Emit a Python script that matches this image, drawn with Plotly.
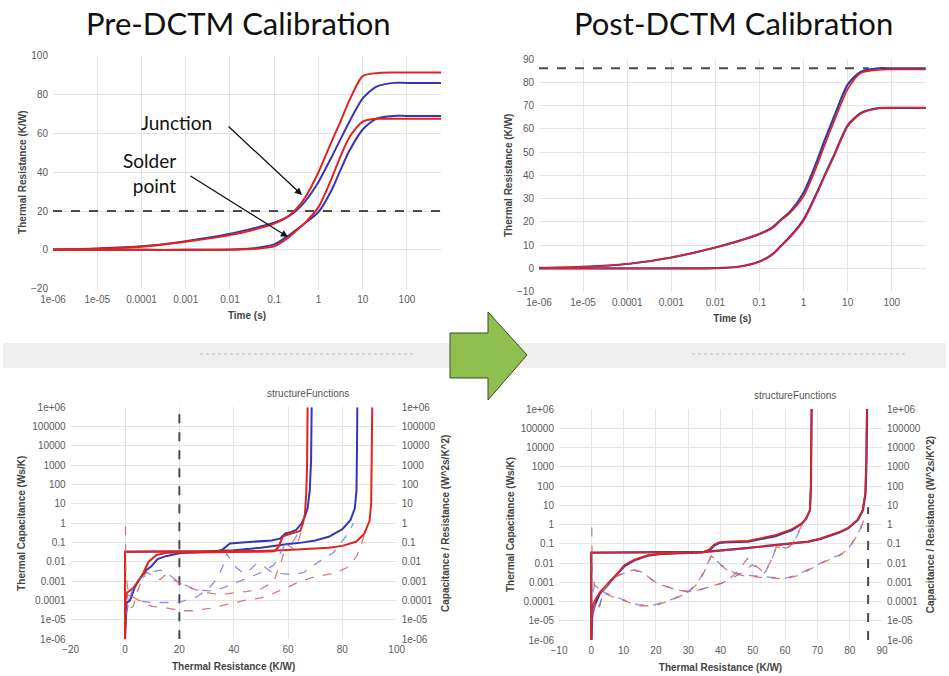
import plotly.graph_objects as go

W, H = 949, 676


def px(x):
    return x / W


def py(y):
    return 1 - y / H


# ---------------- DATA ----------------
# Top charts: thermal impedance vs time
time_s = [1e-6, 1e-5, 1e-4, 1e-3, 1e-2, 0.03, 0.1, 0.2, 0.3, 0.5, 1, 2, 3, 5, 10, 20, 50, 100, 600]

pre_junction_red = [0.2, 0.6, 1.6, 4.2, 7.6, 10, 13.5, 17, 20.5, 27, 40, 56, 65, 77, 89.5, 91, 91.3, 91.3, 91.3]
pre_junction_blue = [0.2, 0.7, 1.8, 4.5, 8.3, 10.8, 14, 17, 19.8, 25, 35, 48, 56, 66, 78, 84, 86, 86, 86]
pre_solder_red = [0, 0, 0, 0, 0.1, 0.4, 1.8, 6, 9.5, 14, 22, 37, 47, 58, 66, 67.5, 67.5, 67.5, 67.5]
pre_solder_blue = [0, 0, 0, 0, 0.2, 0.7, 2.8, 7, 10, 13.8, 19.5, 31, 40, 51, 62, 67.5, 69, 69, 69]

post_junction_red = [0.2, 0.7, 1.9, 4.7, 9, 11.5, 14.8, 17.5, 20.5, 24, 31, 44, 53, 63.5, 77, 84, 85.3, 85.5, 85.5]
post_junction_blue = [0.2, 0.7, 1.9, 4.7, 9, 11.5, 14.8, 17.7, 20.8, 24.5, 32.5, 46, 55, 65.5, 79, 84.5, 86, 86, 86]
post_solder_red = [0, 0, 0, 0, 0.1, 0.6, 2.9, 6, 9.3, 13.5, 20.5, 32, 39.5, 48.5, 61, 66.5, 68.8, 69, 69]
post_solder_blue = [0, 0, 0, 0, 0.1, 0.6, 3, 6.2, 9.5, 13.8, 21, 32.5, 40, 49, 61.5, 66.8, 68.9, 69, 69]

pre_ref_level = 20      # dashed horizontal, pre
post_ref_level = 86     # dashed horizontal, post
post_ref_tmax = 30

time_ticks = [1e-6, 1e-5, 1e-4, 1e-3, 1e-2, 0.1, 1, 10, 100]
time_ticktext = ["1e-06", "1e-05", "0.0001", "0.001", "0.01", "0.1", "1", "10", "100"]

# Bottom charts: cumulative (solid) and differential (dashed) structure functions
pre_cum_junction_red_x = [0, 0, 0.5, 10, 20, 30, 40, 50, 60, 70, 75, 80, 85, 88, 90, 90.6, 90.8, 91.0]
pre_cum_junction_red_y = [1e-6, 0.034, 0.034, 0.034, 0.034, 0.034, 0.035, 0.037, 0.042, 0.048, 0.055, 0.068, 0.11, 0.28, 1.3, 10, 1000, 1e6]
pre_cum_junction_blue_x = [0, 0, 0.5, 10, 20, 30, 40, 50, 60, 65, 70, 75, 80, 83, 84.6, 85.2, 85.4, 85.5]
pre_cum_junction_blue_y = [1e-6, 0.034, 0.034, 0.034, 0.035, 0.036, 0.04, 0.055, 0.085, 0.1, 0.13, 0.2, 0.5, 1.5, 6, 50, 1e4, 1e6]
pre_cum_solder_blue_x = [0, 0.3, 0.6, 1.8, 3.6, 5.5, 8, 9.7, 12, 15, 20, 25, 30, 34, 36, 37.5, 38.6, 42, 48, 54, 57, 59, 61, 63, 65, 66.2, 67.2, 68.0, 68.5, 68.7]
pre_cum_solder_blue_y = [1e-6, 3e-5, 8e-5, 1e-4, 5e-4, 0.0014, 0.004, 0.006, 0.014, 0.02, 0.028, 0.031, 0.033, 0.035, 0.045, 0.07, 0.09, 0.1, 0.11, 0.13, 0.16, 0.3, 0.35, 0.45, 1, 2.2, 6, 50, 2e3, 1e6]
pre_cum_solder_red_x = [0, 0.2, 0.6, 3, 4.3, 6.7, 8.6, 11.6, 15.3, 20, 30, 40, 50, 55, 56.5, 58, 59.5, 61, 63, 64.5, 65.5, 66.2, 66.7, 67.0, 67.2]
pre_cum_solder_red_y = [1e-6, 1e-4, 2.5e-4, 4.5e-4, 8e-4, 0.0026, 0.01, 0.023, 0.03, 0.031, 0.032, 0.033, 0.034, 0.036, 0.06, 0.2, 0.25, 0.3, 0.35, 0.4, 1, 3, 30, 1e3, 1e6]

pre_diff_junction_blue_x = [0.5, 1, 3, 6.7, 10, 14, 19.6, 24, 26.4, 29, 31.3, 34, 36, 37.4, 39, 41, 43.5, 46, 48.5, 51, 54, 58, 62, 66, 70, 73, 76.7, 80.4, 82.5, 84]
pre_diff_junction_blue_y = [1.5e-4, 2e-4, 1.5e-4, 9e-5, 8e-5, 8e-5, 8e-5, 1.2e-4, 1.6e-4, 2.8e-4, 5e-4, 0.0015, 0.006, 0.028, 0.012, 0.005, 0.0026, 0.004, 0.0085, 0.006, 0.003, 0.0025, 0.0022, 0.003, 0.008, 0.015, 0.03, 0.14, 0.35, 1.0]
pre_diff_solder_blue_x = [0.5, 1.5, 3, 5, 8, 11, 12.9, 15, 19, 22, 26.4, 31.3, 36, 40, 45, 50, 54.8, 56.5, 58.4, 60, 61.5, 63, 63.8]
pre_diff_solder_blue_y = [2e-5, 1e-4, 5e-4, 0.0013, 0.0021, 0.0033, 0.0038, 0.003, 0.0011, 6.5e-4, 3.5e-4, 3.2e-4, 4.5e-4, 7.5e-4, 0.0014, 0.0028, 0.007, 0.02, 0.06, 0.09, 0.1, 0.2, 0.5]
pre_diff_junction_red_x = [0.15, 0.3, 1, 3, 6.7, 10, 14, 20.3, 25, 31.3, 37, 43.5, 50, 55, 60, 64.4, 70.5, 76.7, 81.6, 85.3, 87, 87.8, 88.5]
pre_diff_junction_red_y = [0.7, 0.003, 4e-4, 1.5e-4, 8e-5, 5e-5, 4.5e-5, 3e-5, 3e-5, 4e-5, 6e-5, 1e-4, 1.4e-4, 2.5e-4, 5e-4, 0.001, 0.0018, 0.0025, 0.005, 0.02, 0.08, 0.2, 0.3]
pre_diff_solder_red_x = [0.5, 1.8, 3, 4.5, 6.5, 8, 10, 12.9, 14.5, 17, 20, 25, 30, 35, 40, 45, 50, 54.8, 56, 57.2, 58.4, 59.6, 61, 62.3, 64, 65.5]
pre_diff_solder_red_y = [3e-4, 4e-5, 5e-5, 3e-4, 0.0015, 0.003, 0.002, 0.0012, 0.002, 0.0014, 8e-4, 4e-4, 2.6e-4, 2e-4, 2.5e-4, 3e-4, 4e-4, 0.001, 0.003, 0.007, 0.03, 0.08, 0.06, 0.045, 0.15, 0.6]

post_cum_junction_blue_x = [0, 0, 0.5, 10, 20, 30, 35, 47, 57, 62, 67.2, 71, 74.5, 77, 79.5, 82.5, 84.1, 84.9, 85.2, 85.4]
post_cum_junction_blue_y = [1e-6, 0.035, 0.035, 0.035, 0.036, 0.037, 0.038, 0.057, 0.087, 0.1, 0.13, 0.18, 0.28, 0.4, 0.63, 1.7, 5.6, 40, 2e3, 1e6]
post_cum_junction_red_x = [0, 0, 0.5, 10, 20, 30, 35, 47, 57, 62, 67.2, 71, 74.5, 77, 79.5, 82.5, 84.0, 84.8, 85.1, 85.3]
post_cum_junction_red_y = [1e-6, 0.034, 0.034, 0.034, 0.035, 0.036, 0.037, 0.055, 0.085, 0.1, 0.13, 0.19, 0.3, 0.42, 0.66, 1.8, 5.6, 40, 2e3, 1e6]
post_cum_solder_blue_x = [0, 0.3, 0.8, 1.5, 2.6, 5.2, 8.2, 10.3, 13.4, 17.5, 21.6, 30, 34.5, 36.5, 38, 39.6, 42, 48.5, 52, 57, 62, 65.2, 66.5, 67.7, 68.0, 68.2]
post_cum_solder_blue_y = [1e-6, 2e-5, 5e-5, 1e-4, 2.5e-4, 8e-4, 0.0028, 0.007, 0.014, 0.024, 0.03, 0.034, 0.036, 0.045, 0.08, 0.11, 0.12, 0.13, 0.17, 0.25, 0.5, 1.1, 2, 5.6, 100, 1e6]
post_cum_solder_red_x = [0, 0.2, 0.6, 1.5, 2.6, 5.2, 8.2, 10.3, 13.4, 17.5, 21.6, 30, 34.5, 36.5, 38, 39.6, 42, 48.5, 52, 57, 62, 65.2, 66.5, 67.7, 68.0, 68.2]
post_cum_solder_red_y = [1e-6, 4e-5, 8e-5, 1.5e-4, 3e-4, 9e-4, 0.003, 0.008, 0.015, 0.025, 0.03, 0.034, 0.036, 0.05, 0.09, 0.12, 0.13, 0.14, 0.19, 0.28, 0.56, 1.15, 2, 5.6, 100, 1e6]

post_diff_junction_blue_x = [0.5, 1, 2, 4, 7.3, 10, 14.5, 19.6, 25, 30, 33, 35, 37.2, 39.5, 41.9, 44.5, 47.1, 52.2, 56, 60, 64, 67.6, 72.8, 76.9, 80, 83.1, 84.6]
post_diff_junction_blue_y = [3e-4, 8e-4, 6e-4, 3e-4, 1.8e-4, 1.2e-4, 6.6e-5, 6.6e-5, 1.3e-4, 3.2e-4, 0.001, 0.004, 0.026, 0.01, 0.005, 0.003, 0.0024, 0.002, 0.0018, 0.0016, 0.0025, 0.005, 0.014, 0.026, 0.07, 0.5, 2.5]
post_diff_junction_red_x = [0.15, 0.3, 1, 2, 4, 7.3, 10, 14.5, 19.6, 25, 30, 33, 35, 37.2, 39.5, 41.9, 44.5, 47.1, 52.2, 56, 60, 64, 67.6, 72.8, 76.9, 80, 83.1, 84.6]
post_diff_junction_red_y = [0.7, 0.003, 7e-4, 5e-4, 2.6e-4, 1.6e-4, 1.1e-4, 6e-5, 6e-5, 1.2e-4, 3e-4, 9e-4, 0.0035, 0.024, 0.009, 0.0045, 0.0028, 0.0022, 0.0018, 0.0016, 0.0015, 0.0022, 0.0045, 0.013, 0.024, 0.065, 0.45, 2.2]
post_diff_solder_blue_x = [0.5, 1.5, 2.5, 4, 7.9, 11, 13.4, 15.5, 20.2, 26.3, 30, 33.4, 37, 40.4, 43, 46.6, 49.8, 52, 53.6, 55.5, 57.3, 60.4, 62.4, 64.5, 65.6]
post_diff_solder_blue_y = [2e-5, 1e-4, 6e-5, 4e-4, 0.002, 0.0035, 0.0042, 0.0035, 0.0009, 4e-4, 3.3e-4, 4e-4, 6e-4, 0.0009, 0.0015, 0.003, 0.008, 0.005, 0.003, 0.01, 0.07, 0.06, 0.09, 0.5, 1.2]
post_diff_solder_red_x = [0.5, 1.5, 2.5, 4, 7.9, 11, 13.4, 15.5, 20.2, 26.3, 30, 33.4, 37, 40.4, 43, 46, 48.3, 50.5, 53.6, 55.5, 57.3, 60.4, 62.4, 64.5, 65.6]
post_diff_solder_red_y = [3e-5, 1.2e-4, 5e-5, 5e-4, 0.0021, 0.0036, 0.0044, 0.0035, 0.0009, 4e-4, 3.3e-4, 4e-4, 6e-4, 0.0009, 0.0016, 0.005, 0.017, 0.008, 0.003, 0.012, 0.07, 0.055, 0.1, 0.55, 1.2]

pre_rth_marker = 20     # dashed vertical, pre structure function
post_rth_marker = 85.7  # dashed vertical, post structure function
post_marker_ytop = 8

cap_ticks = [1e-6, 1e-5, 1e-4, 1e-3, 1e-2, 0.1, 1, 10, 100, 1000, 1e4, 1e5, 1e6]
cap_ticktext = ["1e-06", "1e-05", "0.0001", "0.001", "0.01", "0.1", "1", "10", "100", "1000", "10000", "100000", "1e+06"]

# ---------------- STYLE ----------------
RED = "#e2231c"
BLUE = "#3636b2"
RED_D = "rgba(200,95,95,0.8)"
BLUE_D = "rgba(115,115,215,0.8)"
REFC = "#4a4a4a"
TICKF = dict(family="Liberation Sans, Arial, sans-serif", size=10, color="#5a5a5a")
TITLEF = dict(family="Liberation Sans, Arial, sans-serif", size=10, color="#444", weight="bold")
GRID = "#e4e4e4"

fig = go.Figure()


def line(x, y, color, width, xa, ya, dash=None, shape="linear"):
    fig.add_trace(go.Scatter(x=x, y=y, mode="lines", xaxis=xa, yaxis=ya, showlegend=False,
                             hoverinfo="skip",
                             line=dict(color=color, width=width, dash=dash, shape=shape,
                                       smoothing=0.7 if shape == "spline" else None)))


# top-left
line([time_s[0], time_s[-1]], [pre_ref_level, pre_ref_level], REFC, 2, "x", "y", dash="dash")
line(time_s, pre_junction_blue, BLUE, 2, "x", "y", shape="spline")
line(time_s, pre_solder_blue, BLUE, 2, "x", "y", shape="spline")
line(time_s, pre_junction_red, RED, 2, "x", "y", shape="spline")
line(time_s, pre_solder_red, RED, 2, "x", "y", shape="spline")

# top-right
line([time_s[0], post_ref_tmax], [post_ref_level, post_ref_level], REFC, 2, "x2", "y2", dash="dash")
line(time_s, post_junction_blue, BLUE, 2.2, "x2", "y2", shape="spline")
line(time_s, post_solder_blue, BLUE, 2.2, "x2", "y2", shape="spline")
line(time_s, post_junction_red, RED, 1.6, "x2", "y2", shape="spline")
line(time_s, post_solder_red, RED, 1.6, "x2", "y2", shape="spline")

# bottom-left
line([pre_rth_marker, pre_rth_marker], [cap_ticks[0], cap_ticks[-1]], REFC, 2, "x3", "y3", dash="dash")
line(pre_diff_junction_blue_x, pre_diff_junction_blue_y, BLUE_D, 1.3, "x3", "y4", dash="dash")
line(pre_diff_solder_blue_x, pre_diff_solder_blue_y, BLUE_D, 1.3, "x3", "y4", dash="dash")
line(pre_diff_junction_red_x, pre_diff_junction_red_y, RED_D, 1.3, "x3", "y4", dash="dash")
line(pre_diff_solder_red_x, pre_diff_solder_red_y, RED_D, 1.3, "x3", "y4", dash="dash")
line(pre_cum_junction_blue_x, pre_cum_junction_blue_y, BLUE, 2, "x3", "y3")
line(pre_cum_solder_blue_x, pre_cum_solder_blue_y, BLUE, 2, "x3", "y3")
line(pre_cum_junction_red_x, pre_cum_junction_red_y, RED, 2, "x3", "y3")
line(pre_cum_solder_red_x, pre_cum_solder_red_y, RED, 2, "x3", "y3")

# bottom-right
line([post_rth_marker, post_rth_marker], [cap_ticks[0], post_marker_ytop], REFC, 2, "x4", "y5", dash="dash")
line(post_diff_junction_blue_x, post_diff_junction_blue_y, BLUE_D, 1.3, "x4", "y6", dash="dash")
line(post_diff_solder_blue_x, post_diff_solder_blue_y, BLUE_D, 1.3, "x4", "y6", dash="dash")
line(post_diff_junction_red_x, post_diff_junction_red_y, RED_D, 1.3, "x4", "y6", dash="dash")
line(post_diff_solder_red_x, post_diff_solder_red_y, RED_D, 1.3, "x4", "y6", dash="dash")
line(post_cum_junction_blue_x, post_cum_junction_blue_y, BLUE, 2.2, "x4", "y5")
line(post_cum_solder_blue_x, post_cum_solder_blue_y, BLUE, 2.2, "x4", "y5")
line(post_cum_junction_red_x, post_cum_junction_red_y, RED, 1.7, "x4", "y5")
line(post_cum_solder_red_x, post_cum_solder_red_y, RED, 1.7, "x4", "y5")


def xax(domain, anchor, **kw):
    d = dict(domain=domain, anchor=anchor, showgrid=True, gridcolor=GRID, gridwidth=1,
             zeroline=False, showline=False, ticks="", tickfont=TICKF, automargin=False,
             ticklabelstandoff=3, fixedrange=True)
    d.update(kw)
    return d


def yax(domain, anchor, **kw):
    d = dict(domain=domain, anchor=anchor, showgrid=True, gridcolor=GRID, gridwidth=1,
             zeroline=False, showline=False, ticks="", tickfont=TICKF, automargin=False,
             ticklabelstandoff=4, fixedrange=True)
    d.update(kw)
    return d


fig.update_layout(
    width=W, height=H, margin=dict(l=0, r=0, t=0, b=0, autoexpand=False),
    paper_bgcolor="white", plot_bgcolor="white", showlegend=False,
    xaxis=xax([px(53), px(441)], "y", type="log", range=[-6, 2.77],
              tickvals=time_ticks, ticktext=time_ticktext,
              title=dict(text="Time (s)", font=TITLEF, standoff=8)),
    yaxis=yax([py(288.7), py(55.7)], "x", range=[-20, 100], dtick=20,
              title=dict(text="Thermal Resistance (K/W)", font=TITLEF, standoff=2)),
    xaxis2=xax([px(539), px(925.7)], "y2", type="log", range=[-6, 2.77],
               tickvals=time_ticks, ticktext=time_ticktext,
               title=dict(text="Time (s)", font=TITLEF, standoff=8)),
    yaxis2=yax([py(291.7), py(59)], "x2", range=[-10, 90], dtick=10,
               title=dict(text="Thermal Resistance (K/W)", font=TITLEF, standoff=2)),
    xaxis3=xax([px(70.7), px(396.7)], "y3", range=[-20, 100], dtick=20,
               title=dict(text="Thermal Resistance (K/W)", font=TITLEF, standoff=8)),
    yaxis3=yax([py(639.3), py(407.3)], "x3", type="log", range=[-6, 6],
               tickvals=cap_ticks, ticktext=cap_ticktext,
               title=dict(text="Thermal Capacitance (Ws/K)", font=TITLEF, standoff=4)),
    yaxis4=yax([py(639.3), py(407.3)], "x3", type="log", range=[-6, 6], overlaying="y3",
               side="right", showgrid=False,
               tickvals=cap_ticks, ticktext=cap_ticktext,
               title=dict(text="Capacitance / Resistance (W^2s/K^2)", font=TITLEF, standoff=7)),
    xaxis4=xax([px(559), px(882)], "y5", range=[-10, 90], dtick=10,
               title=dict(text="Thermal Resistance (K/W)", font=TITLEF, standoff=8)),
    yaxis5=yax([py(640), py(409)], "x4", type="log", range=[-6, 6],
               tickvals=cap_ticks, ticktext=cap_ticktext,
               title=dict(text="Thermal Capacitance (Ws/K)", font=TITLEF, standoff=4)),
    yaxis6=yax([py(640), py(409)], "x4", type="log", range=[-6, 6], overlaying="y5",
               side="right", showgrid=False,
               tickvals=cap_ticks, ticktext=cap_ticktext,
               title=dict(text="Capacitance / Resistance (W^2s/K^2)", font=TITLEF, standoff=7)),
)

# ---- decorations ----
shapes = []
# grey separator band
shapes.append(dict(type="rect", xref="paper", yref="paper", x0=px(3), x1=px(946), y0=py(368), y1=py(343),
                   fillcolor="#efefef", line=dict(width=0), layer="below"))
for a, b in [(200, 415), (692, 908)]:
    shapes.append(dict(type="line", xref="paper", yref="paper", x0=px(a), x1=px(b), y0=py(354), y1=py(354),
                       line=dict(color="#bdbdbd", width=1, dash="dot")))
# green arrow
pts = [(450, 333), (488, 333), (488, 312), (527, 355), (488, 400), (488, 378), (450, 378)]
path = "M " + " L ".join(f"{px(x):.5f},{py(y):.5f}" for x, y in pts) + " Z"
shapes.append(dict(type="path", xref="paper", yref="paper", path=path,
                   fillcolor="#8fc04f", line=dict(color="#3c4a2a", width=1)))
fig.update_layout(shapes=shapes)

TF = "Lato, Open Sans, sans-serif"
ann = [
    dict(text="Pre-DCTM Calibration", x=px(239), y=py(23), font=dict(family=TF, size=31, color="#111")),
    dict(text="Post-DCTM Calibration", x=px(733), y=py(23), font=dict(family=TF, size=31, color="#111")),
    dict(text="Junction", x=px(176), y=py(123), font=dict(family=TF, size=19, color="#111")),
    dict(text="Solder<br>point", x=px(149), y=py(173), align="right", font=dict(family=TF, size=19, color="#111")),
    dict(text="structureFunctions", x=px(308), y=py(393), font=dict(family="Liberation Sans, Arial", size=10, color="#555")),
    dict(text="structureFunctions", x=px(795), y=py(395), font=dict(family="Liberation Sans, Arial", size=10, color="#555")),
]
for a in ann:
    a.update(xref="paper", yref="paper", showarrow=False, xanchor="center", yanchor="middle")
arrows = [
    dict(x=px(302), y=py(195), ax=-75, ay=-70),
    dict(x=px(288), y=py(237), ax=-99, ay=-62),
]
for a in arrows:
    a.update(xref="paper", yref="paper", text="", showarrow=True, arrowhead=2, arrowsize=1.1,
             arrowwidth=1.3, arrowcolor="#111", standoff=0, startstandoff=0)
fig.update_layout(annotations=ann + arrows)

fig.write_html("out.html")
